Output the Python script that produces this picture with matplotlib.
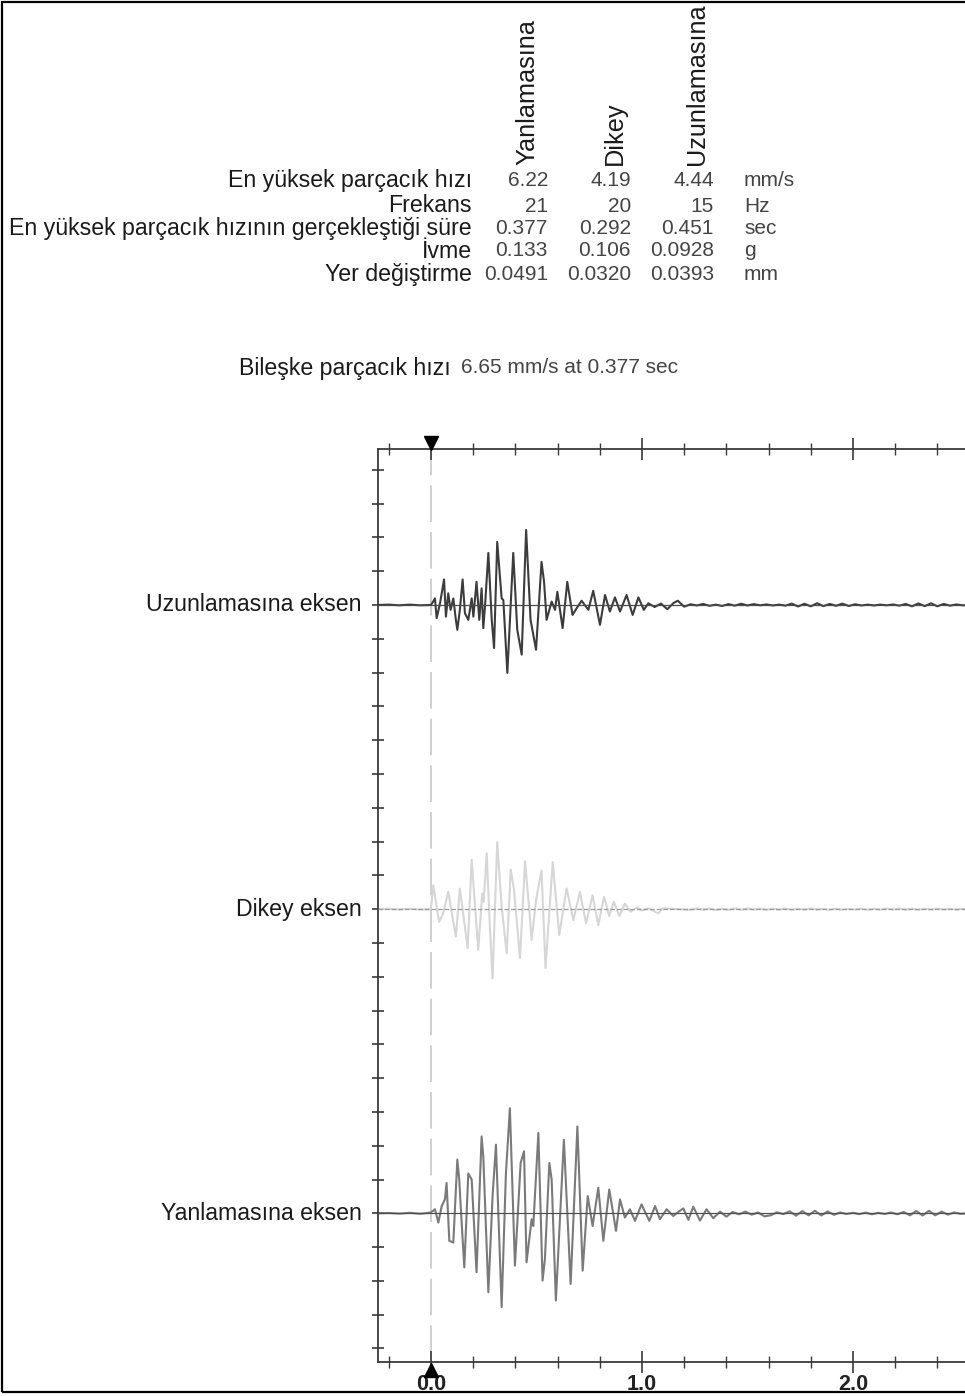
import numpy as np
import matplotlib.pyplot as plt
from matplotlib import font_manager
from matplotlib.patches import Rectangle
from matplotlib.transforms import blended_transform_factory, ScaledTranslation

# --- tablo verileri ---
kolonlar = ["Yanlamasına", "Dikey", "Uzunlamasına"]
satirlar = ["En yüksek parçacık hızı", "Frekans",
            "En yüksek parçacık hızının gerçekleştiği süre", "İvme", "Yer değiştirme"]
degerler = [["6.22", "4.19", "4.44"],
            ["21", "20", "15"],
            ["0.377", "0.292", "0.451"],
            ["0.133", "0.106", "0.0928"],
            ["0.0491", "0.0320", "0.0393"]]
birimler = ["mm/s", "Hz", "sec", "g", "mm"]
bileske = "6.65 mm/s at 0.377 sec"

# --- dalga formlari (zaman s, hiz mm/s), resimden okunan tepe noktalari ---
uzun_t = [-0.25, -0.20, -0.15, -0.10, -0.05, 0.0,
          0.008, 0.019, 0.027, 0.043, 0.062, 0.071, 0.082, 0.093, 0.106, 0.118, 0.125,
          0.137, 0.150, 0.161, 0.177, 0.193, 0.201, 0.216, 0.229, 0.240, 0.248, 0.256,
          0.272, 0.288, 0.299, 0.314, 0.335, 0.343, 0.362, 0.390, 0.409, 0.430, 0.451,
          0.472, 0.498, 0.524, 0.536, 0.548, 0.572, 0.588, 0.599, 0.624, 0.646, 0.671,
          0.690, 0.714, 0.746, 0.769, 0.801, 0.825, 0.848, 0.872, 0.896, 0.927, 0.956,
          0.983, 1.009, 1.03, 1.06, 1.09, 1.12, 1.15, 1.17, 1.20,
          1.23, 1.26, 1.29, 1.32, 1.35, 1.38, 1.41, 1.44, 1.47, 1.50, 1.53, 1.56, 1.59,
          1.62, 1.65, 1.68, 1.71, 1.74, 1.77, 1.80, 1.83, 1.86, 1.89, 1.92, 1.95, 1.98,
          2.01, 2.04, 2.07, 2.10, 2.13, 2.16, 2.19, 2.22, 2.25, 2.28, 2.31, 2.34, 2.37,
          2.40, 2.43, 2.46, 2.49, 2.52, 2.55]
uzun_v = [0.0, 0.02, -0.02, 0.02, -0.02, 0.0,
          0.15, 0.39, -0.78, 0.10, 1.51, -0.69, 0.69, -0.29, 0.39, -0.88, -1.47,
          -0.29, 1.51, -0.49, -0.88, 0.39, -0.69, 1.37, -0.88, 0.98, -1.37, -0.10,
          3.08, -0.88, -2.55, 3.73, 0.39, 0.29, -4.02, 3.08, -1.47, -2.94, 4.44,
          -0.88, -2.65, 2.55, 1.37, -0.88, 0.20, -0.29, 0.78, -1.37, 1.37, -0.59,
          -0.20, 0.25, -0.29, 0.84, -1.18, 0.59, -0.39, 0.45, -0.39, 0.59, -0.59,
          0.45, -0.29, 0.10, -0.12, 0.08, -0.25, 0.12, 0.25, -0.10,
          0.04, -0.03, 0.06, -0.05, 0.02, -0.06, 0.05, -0.04, 0.07, -0.03, 0.05, -0.02, 0.03,
          -0.03, 0.02, -0.04, 0.08, -0.09, 0.07, -0.08, 0.10, -0.07, 0.06, -0.05, 0.08, -0.06,
          0.04, -0.03, 0.02, -0.03, 0.02, -0.02, 0.03, -0.04, 0.06, -0.08, 0.09, -0.07, 0.10,
          -0.08, 0.06, -0.04, 0.03, -0.02, 0.0]

dikey_t = [-0.25, -0.20, -0.15, -0.10, -0.05, 0.0,
           0.011, 0.027, 0.039, 0.058, 0.082, 0.118, 0.137, 0.174, 0.193, 0.224, 0.243,
           0.250, 0.264, 0.280, 0.292, 0.314, 0.335, 0.359, 0.378, 0.393, 0.422, 0.446,
           0.466, 0.477, 0.498, 0.524, 0.543, 0.577, 0.608, 0.643, 0.675, 0.706, 0.735,
           0.766, 0.793, 0.820, 0.845, 0.867, 0.893, 0.919, 0.946, 0.975, 1.00, 1.03,
           1.077, 1.10,
           1.23, 1.26, 1.29, 1.32, 1.35, 1.38, 1.41, 1.44, 1.47, 1.50, 1.53, 1.56, 1.59,
           1.62, 1.65, 1.68, 1.71, 1.74, 1.77, 1.80, 1.83, 1.86, 1.89, 1.92, 1.95, 1.98,
           2.01, 2.04, 2.07, 2.10, 2.13, 2.16, 2.19, 2.22, 2.25, 2.28, 2.31, 2.34, 2.37,
           2.40, 2.43, 2.46, 2.49, 2.52, 2.55]
dikey_v = [0.0, 0.02, -0.02, 0.02, -0.02, 0.0,
           1.41, 0.14, -0.75, -0.25, 1.02, -1.63, 1.22, -2.31, 2.92, -2.41, 0.92,
           0.43, 3.31, -1.24, -4.10, 3.96, 0.14, -2.61, 2.33, 1.22, -2.90, 2.84,
           -0.06, -1.82, 0.53, 2.29, -3.49, 2.78, -1.53, 1.22, -0.65, 1.02, -0.84,
           0.82, -0.94, 0.73, -0.41, 0.43, -0.41, 0.33, -0.16, 0.10, -0.08, 0.05,
           -0.25, 0.05,
           -0.04, 0.05, -0.03, 0.04, -0.05, 0.03, -0.04, 0.05, -0.03, 0.04, -0.02, 0.03, -0.04,
           0.03, -0.03, 0.04, -0.04, 0.03, -0.02, 0.04, -0.03, 0.02, -0.04, 0.03, -0.03, 0.02,
           -0.02, 0.03, -0.03, 0.02, -0.03, 0.04, -0.02, 0.03, -0.03, 0.02, -0.04, 0.03, -0.02,
           0.03, -0.02, 0.02, -0.03, 0.02, 0.0]

yan_t = [-0.25, -0.20, -0.15, -0.10, -0.05, 0.0,
         0.019, 0.035, 0.051, 0.066, 0.074, 0.087, 0.106, 0.125, 0.134, 0.140, 0.158,
         0.177, 0.193, 0.216, 0.240, 0.248, 0.272, 0.292, 0.308, 0.335, 0.355, 0.374,
         0.398, 0.425, 0.441, 0.453, 0.477, 0.485, 0.509, 0.529, 0.540, 0.561, 0.572,
         0.592, 0.630, 0.662, 0.694, 0.719, 0.743, 0.766, 0.793, 0.817, 0.845, 0.877,
         0.896, 0.919, 0.943, 0.967, 0.998, 1.035, 1.062, 1.085, 1.117, 1.148, 1.172,
         1.196, 1.22, 1.243, 1.275, 1.306, 1.338, 1.37, 1.40,
         1.43, 1.46, 1.49, 1.52, 1.55, 1.58, 1.61, 1.64, 1.67, 1.70, 1.73, 1.76, 1.79,
         1.82, 1.85, 1.88, 1.91, 1.94, 1.97, 2.00, 2.03, 2.06, 2.09, 2.12, 2.15, 2.18,
         2.21, 2.24, 2.27, 2.30, 2.33, 2.36, 2.39, 2.42, 2.45, 2.48, 2.51, 2.55]
yan_v = [0.0, 0.02, -0.02, 0.03, -0.03, 0.05,
         0.24, -0.55, 0.43, 0.82, 1.80, -1.63, -1.73, 3.18, 2.00, 0.63, -3.20,
         2.35, 2.00, -3.49, 4.55, 3.37, -4.67, 1.02, 4.06, -5.55, 2.29, 6.22,
         -3.10, 2.98, 3.67, -2.90, -0.35, -0.75, 4.75, -3.98, -2.71, 2.98, 2.00,
         -5.16, 4.35, -4.18, 5.14, -3.39, 1.02, -0.75, 1.51, -1.63, 1.41, -1.04,
         0.82, -0.25, 0.24, -0.45, 0.53, -0.45, 0.43, -0.35, 0.24, -0.16, 0.08,
         0.29, -0.39, 0.39, -0.43, 0.24, -0.29, 0.10, -0.20,
         0.08, -0.06, 0.10, -0.08, 0.05, -0.18, -0.12, 0.06, -0.05, 0.12, -0.14, 0.13, -0.12,
         0.15, -0.13, 0.11, -0.09, 0.05, -0.04, 0.03, -0.05, 0.04, -0.06, 0.03, -0.04, 0.05,
         -0.06, 0.08, -0.12, 0.14, -0.13, 0.15, -0.12, 0.10, -0.08, 0.05, -0.03, 0.0]

# --- yazi tipleri ---
mevcut = {f.name for f in font_manager.fontManager.ttflist}
dar = "Liberation Sans Narrow" if "Liberation Sans Narrow" in mevcut else "Liberation Sans"
plt.rcParams["font.family"] = ["Liberation Sans", "DejaVu Sans"]

W, H = 965, 1396
fig = plt.figure(figsize=(W / 100, H / 100), dpi=100)


def fx(x):
    return x / W


def fy(y):
    return 1 - y / H


# dis cerceve
fig.add_artist(Rectangle((fx(2), fy(1392)), 2, (1390) / H, transform=fig.transFigure,
                         fill=False, ec="black", lw=1.6))

# --- ust tablo ---
renk_yazi = "#1a1a1a"
renk_sayi = "#444444"
kolon_x = [527, 615, 697]
sayi_x = [548, 631, 714]
satir_y = [180, 206, 228, 251, 274]
for k, x in zip(kolonlar, kolon_x):
    fig.text(fx(x), fy(165), k, rotation=90, ha="center", va="bottom",
             fontsize=18.2, color=renk_yazi)
for i, (s, y) in enumerate(zip(satirlar, satir_y)):
    fig.text(fx(472), fy(y), s, ha="right", va="center", fontsize=16.7, color=renk_yazi)
    for d, x in zip(degerler[i], sayi_x):
        fig.text(fx(x), fy(y), d, ha="right", va="center", fontsize=15,
                 family=dar, color=renk_sayi)
    fig.text(fx(744), fy(y), birimler[i], ha="left", va="center", fontsize=15,
             family=dar, color=renk_sayi)

fig.text(fx(451), fy(369), "Bileşke parçacık hızı", ha="right", va="center",
         fontsize=16.7, color=renk_yazi)
fig.text(fx(461), fy(368), bileske, ha="left", va="center", fontsize=15,
         family=dar, color=renk_sayi)

# --- dalga grafigi ---
ax = fig.add_axes([fx(378), fy(1362), 1 - fx(378), (1362 - 449) / H])
ax.set_xlim(-0.251, 2.531)
ax.set_ylim(-22.4, 4.615)
olcek = 0.5  # eksen birimi / (mm/s)

izler = [("Uzunlamasına eksen", 0, uzun_t, uzun_v, "#3c3c3c", "#4a4a4a", "-"),
         ("Dikey eksen", -9, dikey_t, dikey_v, "#d6d6d6", "#9a9a9a", "--"),
         ("Yanlamasına eksen", -18, yan_t, yan_v, "#7a7a7a", "#505050", "-")]

ax.axvline(0, color="#c8c8c8", lw=1.2, dashes=(22, 6), zorder=1)
for ad, taban, t, v, renk, taban_renk, stil in izler:
    ax.plot(t, taban + olcek * np.array(v), color=renk, lw=1.5, zorder=2)
    ax.axhline(taban, color=taban_renk, lw=0.9, ls=stil, zorder=3)
    ax.text(-0.327, taban, ad, transform=ax.transData, ha="right", va="center",
            fontsize=16.7, color=renk_yazi, clip_on=False)

for s in ["top", "bottom", "left"]:
    ax.spines[s].set_color("#3a3a3a")
    ax.spines[s].set_linewidth(1.3)
ax.spines["right"].set_visible(False)

ax.set_xticks([0, 1, 2])
ax.set_xticklabels(["0.0", "1.0", "2.0"], fontweight="bold", fontsize=15.5, color="#222222")
ax.set_xticks([-0.2, 0.2, 0.4, 0.6, 0.8, 1.2, 1.4, 1.6, 1.8, 2.2, 2.4], minor=True)
ax.set_yticks(range(-22, 5))
ax.set_yticklabels([])
ax.tick_params(axis="x", which="major", direction="inout", length=16, width=1.2,
               color="#3a3a3a", top=True, bottom=True, pad=1)
ax.tick_params(axis="x", which="minor", direction="inout", length=9, width=1.0,
               color="#3a3a3a", top=True, bottom=True)
ax.tick_params(axis="y", which="major", direction="inout", length=9, width=1.2,
               color="#3a3a3a", left=True, right=False)

# tetik isaretleri
tr = blended_transform_factory(ax.transData, ax.transAxes)
ax.plot([0], [1], marker="v", ms=10, color="black", clip_on=False, zorder=5,
        transform=tr + ScaledTranslation(0, 6.5 / 100, fig.dpi_scale_trans))
ax.plot([0], [0], marker="^", ms=10, color="black", clip_on=False, zorder=5,
        transform=tr + ScaledTranslation(0, -8 / 100, fig.dpi_scale_trans))

fig.savefig("out.png", dpi=100)
